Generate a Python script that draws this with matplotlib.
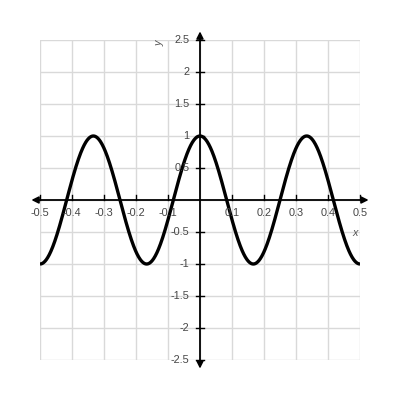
import numpy as np
import matplotlib.pyplot as plt

# curve: y = amplitude * cos(2*pi*x / period)
amplitude = 1.0
period = 1 / 3
x_start, x_end = -0.5, 0.5

x_ticks = [-0.5, -0.4, -0.3, -0.2, -0.1, 0.1, 0.2, 0.3, 0.4, 0.5]
x_labels = ["-0.5", "-0.4", "-0.3", "-0.2", "-0.1", "0.1", "0.2", "0.3", "0.4", "0.5"]
y_ticks = [-2.5, -2, -1.5, -1, -0.5, 0.5, 1, 1.5, 2, 2.5]
y_labels = ["-2.5", "-2", "-1.5", "-1", "-0.5", "0.5", "1", "1.5", "2", "2.5"]

plt.rcParams['font.family'] = ['Liberation Sans', 'DejaVu Sans']

fig = plt.figure(figsize=(4, 4), dpi=100)
ax = fig.add_axes([0.1, 0.1, 0.8, 0.8])
ax.set_xlim(-0.5, 0.5)
ax.set_ylim(-2.5, 2.5)

# grid
ax.set_xticks(np.arange(-0.5, 0.51, 0.1))
ax.set_yticks(np.arange(-2.5, 2.51, 0.5))
ax.grid(True, color='#d9d9d9', lw=1)
ax.tick_params(length=0, labelbottom=False, labelleft=False)
for s in ax.spines.values():
    s.set_visible(False)

# axes with arrows
ax.annotate('', xy=(1.027, 0), xytext=(-0.027, 0),
            xycoords=('axes fraction', 'data'), textcoords=('axes fraction', 'data'),
            arrowprops=dict(arrowstyle='<|-|>', color='black', lw=1.3,
                            mutation_scale=10, shrinkA=0, shrinkB=0))
ax.annotate('', xy=(0, 1.027), xytext=(0, -0.027),
            xycoords=('data', 'axes fraction'), textcoords=('data', 'axes fraction'),
            arrowprops=dict(arrowstyle='<|-|>', color='black', lw=1.3,
                            mutation_scale=10, shrinkA=0, shrinkB=0))

# tick marks and labels
for xt, lab in zip(x_ticks, x_labels):
    ax.plot([xt, xt], [0, 0.08], color='black', lw=1, clip_on=False)
    ax.text(xt, -0.2, lab, ha='center', va='center', fontsize=7.8, color='#444444')
for yt, lab in zip(y_ticks, y_labels):
    ax.plot([-0.012, 0.012], [yt, yt], color='black', lw=1, clip_on=False)
    ax.text(-0.033, yt, lab, ha='right', va='center', fontsize=7.8, color='#444444')

ax.text(-0.125, 2.45, 'y', rotation=90, ha='center', va='center', fontsize=7.8,
        style='italic', color='#555555')
ax.text(0.485, -0.52, 'x', ha='center', va='center', fontsize=7.8,
        style='italic', color='#555555')

# curve
xs = np.linspace(x_start, x_end, 1000)
ys = amplitude * np.cos(2 * np.pi * xs / period)
ax.plot(xs, ys, color='black', lw=2.4, solid_capstyle='butt')

fig.savefig('out.png', dpi=100)
